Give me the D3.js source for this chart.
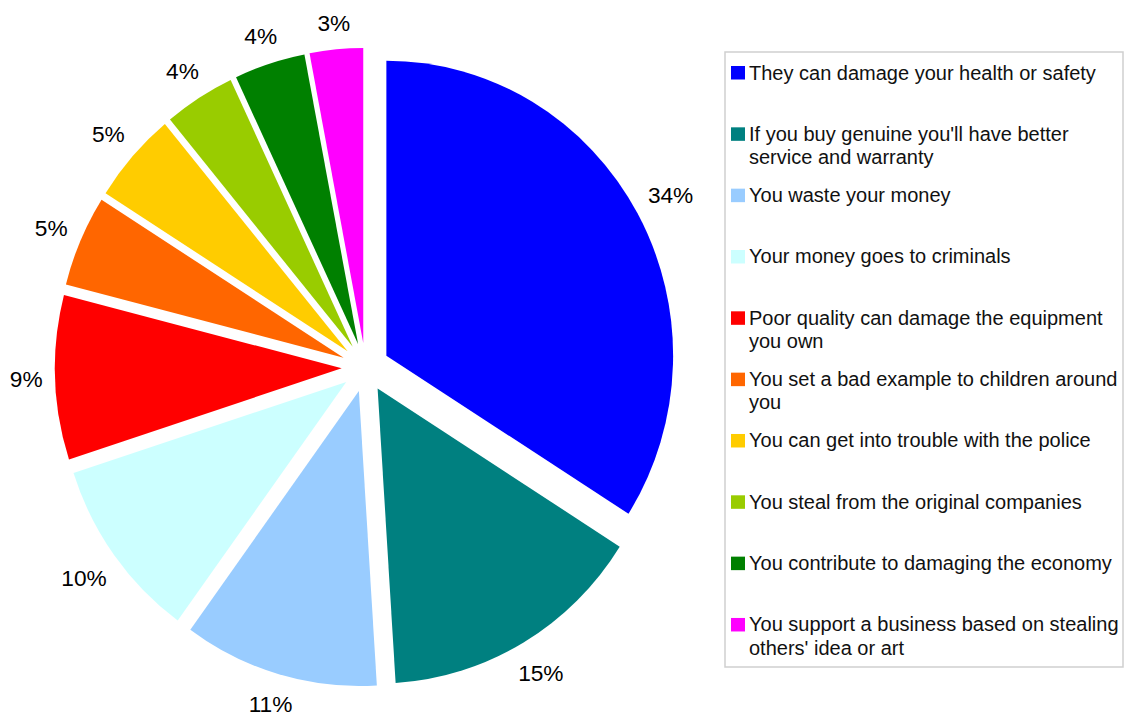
<!DOCTYPE html>
<html>
<head>
<meta charset="utf-8">
<script src="https://cdn.jsdelivr.net/npm/d3@7"></script>
<style>
  html, body { margin: 0; padding: 0; background: #ffffff; }
  svg { display: block; font-family: "Liberation Sans", Arial, sans-serif; }
</style>
</head>
<body>
<svg id="chart" width="1128" height="722"></svg>
<script>
// Reasons given for not buying counterfeit goods (share of answers, %)
const categories = [
  "They can damage your health or safety",
  "If you buy genuine you'll have better service and warranty",
  "You waste your money",
  "Your money goes to criminals",
  "Poor quality can damage the equipment you own",
  "You set a bad example to children around you",
  "You can get into trouble with the police",
  "You steal from the original companies",
  "You contribute to damaging the economy",
  "You support a business based on stealing others' idea or art"
];
const values = [34, 15, 11, 10, 9, 5, 5, 4, 4, 3];
const colors = [
  "#0000ff", "#008080", "#99ccff", "#ccffff", "#ff0000",
  "#ff6600", "#ffcc00", "#99cc00", "#008000", "#ff00ff"
];

const svg = d3.select("#chart");

// Pie geometry (slightly wider than tall, every slice pulled out from the centre)
const cx = 365.5, cy = 367.5;
const radius = 295;
const xStretch = 0.972;
const explode = 24.5;

const pie = d3.pie().sort(null).value(d => d.value).startAngle(0).endAngle(2 * Math.PI);
const arc = d3.arc().innerRadius(0).outerRadius(radius);

const data = categories.map((c, i) => ({ name: c, value: values[i], color: colors[i] }));
const arcs = pie(data);
const total = d3.sum(values);
const pct = d3.format(".0%");

const pieG = svg.append("g")
  .attr("transform", `translate(${cx},${cy}) scale(${xStretch},1)`);

pieG.selectAll("path.slice")
  .data(arcs)
  .join("path")
  .attr("class", "slice")
  .attr("d", arc)
  .attr("fill", d => d.data.color)
  .attr("transform", d => {
    const mid = (d.startAngle + d.endAngle) / 2;
    return `translate(${explode * Math.sin(mid)},${-explode * Math.cos(mid)})`;
  });

// Percentage labels outside each slice
const labelSize = 22.7;
const labelG = svg.append("g");
const labels = labelG.selectAll("text")
  .data(arcs)
  .join("text")
  .attr("font-size", labelSize)
  .attr("fill", "#000")
  .attr("text-anchor", "middle")
  .text(d => pct(d.data.value / total));

labels.each(function(d) {
  const w = this.getComputedTextLength();
  const h = 24;
  const mid = (d.startAngle + d.endAngle) / 2;
  const s = Math.sin(mid), c = Math.cos(mid);
  const r = radius + explode + 13 + (w / 2) * Math.abs(s) + (h / 2) * Math.abs(c);
  const x = cx + xStretch * r * s;
  const y = cy - r * c;
  d3.select(this).attr("x", x).attr("y", y + 0.358 * labelSize);
});

// Legend
const legend = { x: 725, y: 52, w: 398, h: 615 };
const legendFont = 20;
const firstBaseline = 79.5;
const rowStep = 61.33;
const lineStep = 23.3;
const maxTextWidth = 375;

const legendG = svg.append("g");
legendG.append("rect")
  .attr("x", legend.x).attr("y", legend.y)
  .attr("width", legend.w).attr("height", legend.h)
  .attr("fill", "#ffffff")
  .attr("stroke", "#cfcfcf")
  .attr("stroke-width", 1.5);

const items = legendG.selectAll("g.item")
  .data(data)
  .join("g")
  .attr("class", "item")
  .attr("transform", (d, i) => `translate(0,${firstBaseline + i * rowStep})`);

items.append("rect")
  .attr("x", 731).attr("y", -13.5)
  .attr("width", 14).attr("height", 13.5)
  .attr("fill", d => d.color);

items.each(function(d) {
  const g = d3.select(this);
  const text = g.append("text")
    .attr("x", 749)
    .attr("y", 0)
    .attr("font-size", legendFont)
    .attr("fill", "#111");
  // wrap words into lines that fit the legend box
  const words = d.name.split(" ");
  let line = [];
  let lineNo = 0;
  let tspan = text.append("tspan").attr("x", 749).attr("y", 0);
  words.forEach(word => {
    line.push(word);
    tspan.text(line.join(" "));
    if (tspan.node().getComputedTextLength() > maxTextWidth && line.length > 1) {
      line.pop();
      tspan.text(line.join(" "));
      line = [word];
      lineNo += 1;
      tspan = text.append("tspan").attr("x", 749).attr("y", lineNo * lineStep).text(word);
    }
  });
});
</script>
</body>
</html>
